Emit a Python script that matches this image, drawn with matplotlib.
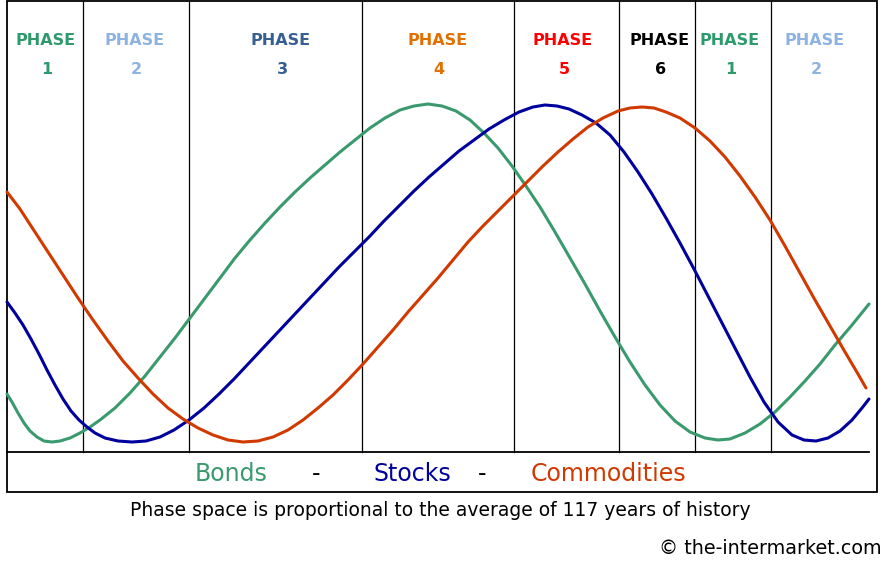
import matplotlib.pyplot as plt
from matplotlib.patches import Rectangle

# Curve readings (time position, level) in chart units; level axis points down
bonds_x = [7, 12, 18, 24, 30, 37, 44, 52, 60, 70, 80, 90, 100, 115, 130, 145, 160, 175, 190,
           205, 220, 235, 250, 265, 280, 295, 310, 325, 340, 355, 370, 385, 400, 414, 428,
           442, 456, 470, 484, 498, 512, 526, 540, 555, 570, 585, 600, 615, 630, 645, 660,
           675, 690, 705, 718, 730, 745, 760, 775, 790, 805, 820, 835, 852, 869]
bonds_y = [394, 402, 413, 423, 431, 437, 441, 442, 441, 438, 433, 427, 420, 408, 393, 376, 357,
           338, 318, 298, 278, 258, 240, 223, 207, 192, 178, 165, 152, 140, 128, 118, 110, 106,
           104, 106, 111, 120, 133, 148, 166, 186, 207, 232, 258, 284, 311, 337, 362, 385, 405,
           421, 432, 438, 440, 439, 433, 424, 412, 397, 381, 364, 345, 325, 304]

stocks_x = [7, 15, 23, 31, 39, 47, 55, 63, 71, 79, 87, 95, 105, 118, 132, 146, 160, 174, 189,
            204, 219, 234, 249, 264, 279, 294, 309, 324, 339, 354, 369, 384, 399, 414, 429,
            444, 459, 474, 489, 504, 519, 533, 545, 557, 569, 582, 596, 610, 624, 638, 652,
            666, 680, 694, 708, 722, 736, 750, 764, 778, 792, 804, 816, 828, 840, 852, 862, 869]
stocks_y = [302, 313, 325, 339, 354, 370, 385, 399, 411, 420, 427, 433, 438, 441, 442, 441, 437,
            430, 420, 408, 394, 379, 363, 347, 331, 315, 299, 283, 267, 252, 237, 221, 206, 191,
            177, 164, 151, 140, 129, 120, 112, 107, 105, 106, 109, 115, 123, 135, 152, 172, 194,
            218, 243, 269, 296, 323, 350, 377, 402, 422, 435, 440, 441, 438, 431, 420, 408, 399]

comm_x = [7, 20, 33, 48, 63, 78, 93, 108, 123, 138, 153, 168, 183, 198, 213, 228, 243, 258,
          273, 288, 303, 318, 333, 348, 363, 378, 393, 408, 423, 438, 453, 468, 483, 498, 513,
          528, 543, 558, 573, 588, 603, 618, 630, 642, 654, 666, 680, 695, 710, 725, 740, 755,
          770, 785, 800, 815, 830, 845, 858, 866]
comm_y = [192, 209, 229, 252, 275, 298, 320, 341, 361, 378, 394, 408, 419, 428, 435, 440, 442,
          441, 437, 430, 420, 408, 395, 380, 364, 347, 330, 312, 295, 278, 260, 242, 226, 211,
          196, 181, 166, 152, 139, 127, 118, 111, 108, 107, 108, 112, 118, 128, 141, 157, 176,
          197, 220, 246, 273, 300, 326, 352, 374, 388]

# Phase boundaries and labels
phase_bounds = [83, 189, 362, 514, 619, 695, 771]
phase_names = ["1", "2", "3", "4", "5", "6", "1", "2"]
phase_pos = [46, 135, 281, 438, 563, 660, 730, 815]
phase_colors = ["#2e9a6c", "#8db3e2", "#366092", "#e07000", "#ff0000", "#000000",
                "#2e9a6c", "#8db3e2"]

green = "#3a9a6e"
blue = "#00009c"
red = "#d03a00"

fig = plt.figure(figsize=(8.92, 5.61), dpi=100)
ax = fig.add_axes([0, 0, 1, 1])
ax.set_xlim(0, 892)
ax.set_ylim(561, 0)
ax.axis("off")

# outer frame and baseline
ax.add_patch(Rectangle((7, 1), 870, 491, fill=False, edgecolor="black", linewidth=1.3))
ax.plot([7, 869], [452, 452], color="black", linewidth=1.3)
for b in phase_bounds:
    ax.plot([b, b], [1, 452], color="black", linewidth=0.9)

ax.plot(bonds_x, bonds_y, color=green, linewidth=2.2, solid_capstyle="round")
ax.plot(stocks_x, stocks_y, color=blue, linewidth=2.2, solid_capstyle="round")
ax.plot(comm_x, comm_y, color=red, linewidth=2.2, solid_capstyle="round")

for name, xp, c in zip(phase_names, phase_pos, phase_colors):
    ax.text(xp, 40, "PHASE", color=c, fontsize=11.5, fontweight="bold",
            ha="center", va="center")
    ax.text(xp + 1, 69, name, color=c, fontsize=11.5, fontweight="bold",
            ha="center", va="center")

ax.text(231, 474, "Bonds", color=green, fontsize=17, ha="center", va="center")
ax.text(316, 474, "-", color="black", fontsize=17, ha="center", va="center")
ax.text(412, 474, "Stocks", color=blue, fontsize=17, ha="center", va="center")
ax.text(482, 474, "-", color="black", fontsize=17, ha="center", va="center")
ax.text(608, 474, "Commodities", color=red, fontsize=17, ha="center", va="center")

ax.text(440, 510, "Phase space is proportional to the average of 117 years of history",
        fontsize=13.5, ha="center", va="center")
ax.text(770, 549, "\u00a9 the-intermarket.com", fontsize=13.8, ha="center", va="center")

fig.savefig("out.png", dpi=100)
